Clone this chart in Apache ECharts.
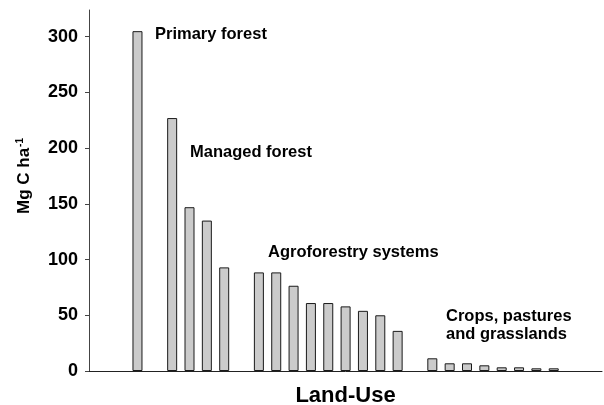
<!DOCTYPE html>
<html>
<head>
<meta charset="utf-8">
<script src="https://cdn.jsdelivr.net/npm/echarts@6/dist/echarts.min.js"></script>
<style>html,body{margin:0;padding:0;background:#fff}#chart{width:604px;height:405px}</style>
</head>
<body>
<div id="chart"></div>
<script>
// ---- data ----
const primaryForest = [305];
const managedForest = [227, 147, 135, 93];
const agroforestry = [88.5, 88.5, 76.5, 61, 61, 58, 54, 50, 36];
const crops = [11.4, 6.9, 6.9, 5.1, 3.3, 3.3, 2.4, 2.4];
const groupNames = ['Primary forest', 'Managed forest', 'Agroforestry systems', 'Crops, pastures\nand grasslands'];
const yTicks = [0, 50, 100, 150, 200, 250, 300];
const yMax = 324;

// build category slots: groups separated by one empty slot
const groups = [primaryForest, managedForest, agroforestry, crops];
const categories = [];
const values = [];
groups.forEach((g, gi) => {
  if (gi > 0) { categories.push('gap' + gi); values.push('-'); }
  g.forEach((v, i) => { categories.push('g' + gi + '_' + i); values.push(v); });
});

const FONT = 'Liberation Sans';
const chart = echarts.init(document.getElementById('chart'), null, {renderer: 'canvas'});
const gridTop = 10, gridBottom = 34;
const annStyle = {fontFamily: FONT, fontWeight: 'bold', fontSize: 16.5, fill: '#000'};
chart.setOption({
  animation: false,
  textStyle: {fontFamily: FONT},
  grid: [
    {left: 89, right: 2, top: gridTop, bottom: gridBottom, containLabel: false, outerBoundsMode: 'none'},
    {left: 128.8, right: 41.6, top: gridTop, bottom: gridBottom, containLabel: false, outerBoundsMode: 'none'}
  ],
  xAxis: [
    {
      type: 'value', gridIndex: 0, min: 0, max: 1,
      splitLine: {show: false}, axisTick: {show: false}, axisLabel: {show: false},
      axisLine: {show: true, onZero: false, lineStyle: {color: '#222', width: 1}},
      name: 'Land-Use', nameLocation: 'middle', nameGap: 14,
      nameTextStyle: {fontFamily: FONT, fontWeight: 'bold', fontSize: 22, color: '#000'}
    },
    {
      type: 'category', gridIndex: 1, data: categories, boundaryGap: true,
      axisLine: {show: false}, axisTick: {show: false}, axisLabel: {show: false}, splitLine: {show: false}
    }
  ],
  yAxis: [
    {
      type: 'value', gridIndex: 0, min: 0, max: yMax,
      splitLine: {show: false},
      axisLine: {show: true, lineStyle: {color: '#444', width: 1}},
      axisTick: {show: true, inside: false, length: 4, customValues: yTicks, lineStyle: {color: '#444'}},
      axisLabel: {customValues: yTicks, margin: 11, padding: [3, 0, 0, 0], fontFamily: FONT, fontWeight: 'bold', fontSize: 18, color: '#000'}
    },
    {
      type: 'value', gridIndex: 1, min: 0, max: yMax, show: false
    }
  ],
  series: [{
    type: 'bar', xAxisIndex: 1, yAxisIndex: 1, data: values,
    barWidth: 10,
    itemStyle: {color: '#cbcbcb', borderColor: '#1a1a1a', borderWidth: 1}
  }],
  graphic: [
    {type: 'text', x: 24, y: 176, rotation: Math.PI / 2,
     style: {text: '{a|Mg C ha}{s|-1}', align: 'center', verticalAlign: 'middle',
       rich: {
         a: {fontFamily: FONT, fontWeight: 'bold', fontSize: 17, fill: '#000'},
         s: {fontFamily: FONT, fontWeight: 'bold', fontSize: 10, fill: '#000', verticalAlign: 'top', padding: [0, 0, 8, 1]}
       }}},
    {type: 'text', x: 155, y: 34, style: Object.assign({text: groupNames[0], verticalAlign: 'middle'}, annStyle)},
    {type: 'text', x: 190, y: 152, style: Object.assign({text: groupNames[1], verticalAlign: 'middle'}, annStyle)},
    {type: 'text', x: 268, y: 252.5, style: Object.assign({text: groupNames[2], verticalAlign: 'middle'}, annStyle)},
    {type: 'text', x: 446, y: 307, style: Object.assign({text: groupNames[3], verticalAlign: 'top', lineHeight: 18}, annStyle)}
  ]
});
</script>
</body>
</html>
